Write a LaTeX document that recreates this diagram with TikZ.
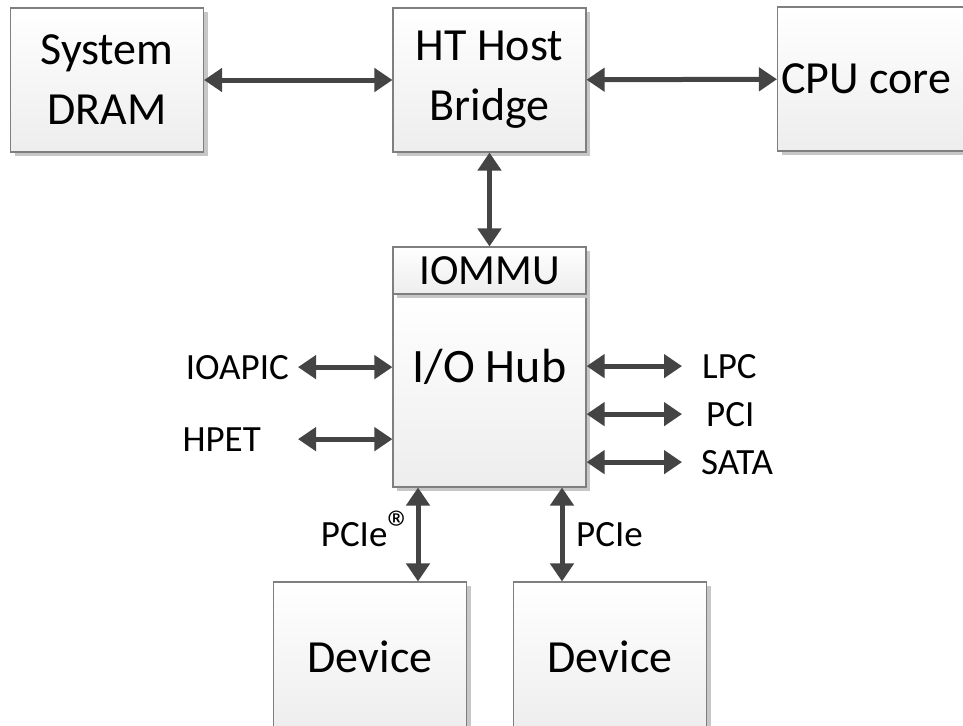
\documentclass[tikz,border=0pt]{standalone}
\usepackage{fontspec}
\setmainfont{Carlito}
\usetikzlibrary{arrows.meta,shadows}
\definecolor{linkgray}{HTML}{444444}
\definecolor{boxline}{HTML}{7F7F7F}

\begin{document}
\begin{tikzpicture}[x=1pt,y=-1pt,
  title/.style={font=\fontsize{46}{60}\selectfont},
  block/.style={title,draw=boxline,line width=1.1pt,top color=white,bottom color=black!7,
    drop shadow={shadow xshift=4pt,shadow yshift=-4pt,fill=black!22,opacity=1},
    minimum width=193pt,minimum height=144pt,inner sep=0pt,align=center},
  tag/.style={inner sep=0pt,font=\fontsize{37}{42}\selectfont},
  link/.style={draw=linkgray,line width=5pt,
    {Triangle[length=18pt,width=23pt]}-{Triangle[length=18pt,width=23pt]}}]
  \useasboundingbox (0,0) rectangle (963,725);

  % top row
  \node[block] (dram) at (107,80) {System\\DRAM};
  \node[block] (host) at (489.5,80) {HT Host\\Bridge};
  \node[block] (cpu) at (874,79) {};
  \node[title] (cpuname) at (866,79) {CPU core};

  % hub with its IOMMU on top
  \node[block,minimum height=193pt] (hub) at (489.5,390.5) {};
  \node[block,minimum height=47pt,font=\fontsize{43}{48}\selectfont] (iommu) at (489.5,270.5) {IOMMU};
  \node[font=\fontsize{48}{52}\selectfont] (hubname) at (489.5,367) {I/O Hub};

  % devices
  \node[block,minimum height=150pt] (devA) at (370,657) {Device};
  \node[block,minimum height=150pt] (devB) at (610,657) {Device};

  % side labels
  \node[tag,anchor=base east] (ioapic) at (289,379) {IOAPIC};
  \node[tag,anchor=base east] (hpet) at (261,451) {HPET};
  \node[tag,anchor=base west] (lpc) at (702,378) {LPC};
  \node[tag,anchor=base west] (pci) at (706,426) {PCI};
  \node[tag,anchor=base west] (sata) at (701,474) {SATA};
  \node[tag,anchor=base east] (pcieA) at (413,546) {PCIe\raisebox{1pt}{\fontsize{50}{50}\selectfont\textregistered}};
  \node[tag,anchor=base west] (pcieB) at (576,546) {PCIe};

  \draw[link] (dram) -- (host);
  \draw[link] (host) -- (cpu);
  \draw[link] (host) -- (iommu);

  \draw[link] ([xshift=9pt]ioapic.east) -- (ioapic -| hub.west);
  \draw[link] ([xshift=37pt]hpet.east) -- (hpet -| hub.west);
  \draw[link] (lpc -| hub.east) -- ([xshift=-20pt]lpc.west);
  \draw[link] (pci -| hub.east) -- ([xshift=-24pt]pci.west);
  \draw[link] (sata -| hub.east) -- ([xshift=-19pt]sata.west);

  \draw[link] ([xshift=48pt]devA.north |- hub.south) -- ([xshift=48pt]devA.north);
  \draw[link] ([xshift=-48pt]devB.north |- hub.south) -- ([xshift=-48pt]devB.north);
\end{tikzpicture}
\end{document}
